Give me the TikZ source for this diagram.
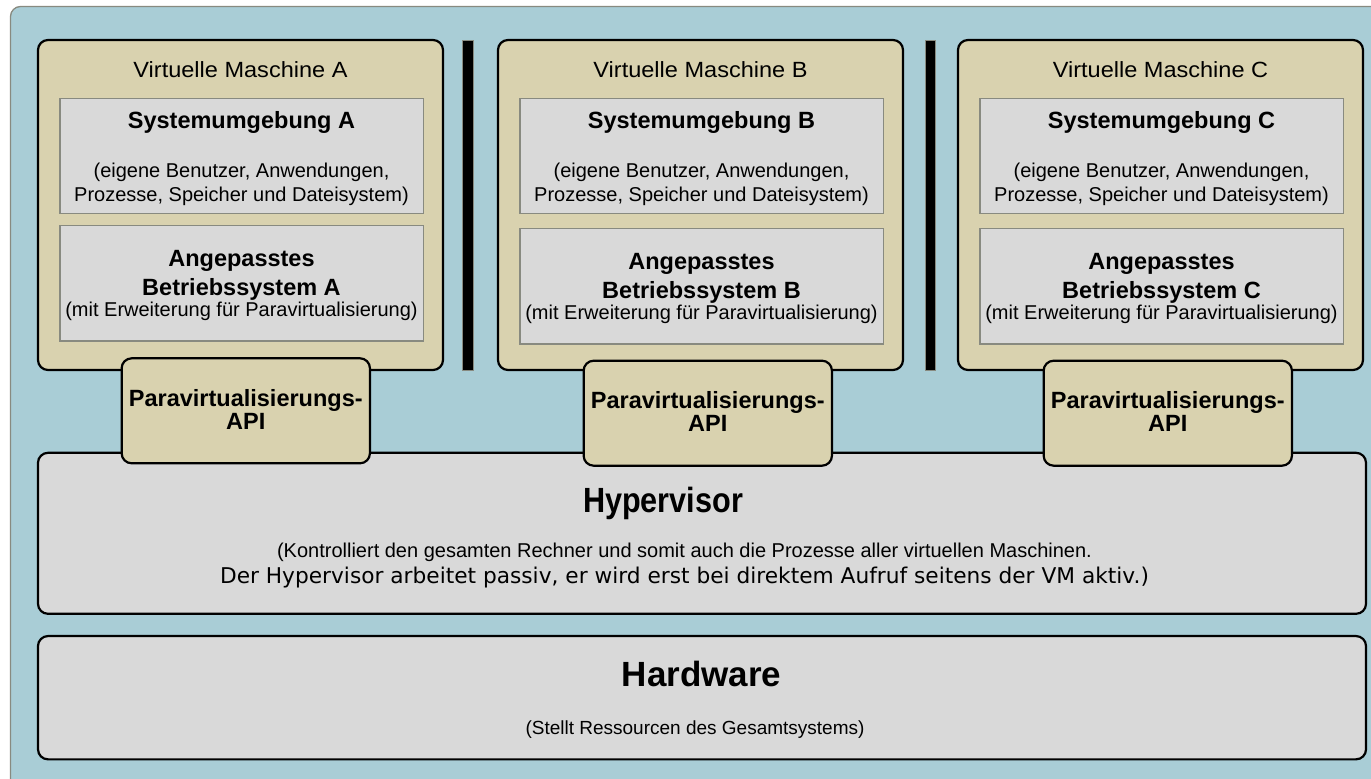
\documentclass[tikz,border=0pt]{standalone}
\usepackage{fontspec}
\setmainfont{Liberation Sans}
\newfontfamily\vmfont{Liberation Sans}[FakeStretch=1.07]
\newfontfamily\hvfont{Liberation Sans}[FakeStretch=0.875]
\newfontfamily\dvfont{DejaVu Sans}
\newcommand\pxsize[1]{\fontsize{#1}{#1}\selectfont}

\definecolor{canvasblue}{RGB}{169,205,214}
\definecolor{vmtan}{RGB}{217,210,175}
\definecolor{layergray}{RGB}{217,217,217}
\definecolor{softline}{RGB}{136,138,128}

\begin{document}
\begin{tikzpicture}[x=1pt,y=-1pt,
  box/.style={draw=black, line width=2.2pt, rounded corners=10pt, inner sep=0pt},
  vmbox/.style={box, fill=vmtan},
  apibox/.style={box, fill=vmtan},
  layerbox/.style={box, fill=layergray},
  innerbox/.style={draw=softline, line width=1.3pt, fill=layergray, inner sep=0pt},
  divider/.style={draw=softline, line width=0.8pt, fill=black, inner sep=0pt},
  label/.style={anchor=base, inner sep=0pt},
  vmtitle/.style={label, font=\vmfont\pxsize{22}},
  head/.style={label, font=\bfseries\pxsize{23.5}},
  body/.style={label, font=\pxsize{20}},
  big/.style={label, font=\bfseries\pxsize{35}}]

\useasboundingbox (0,0) rectangle (1371,779);
\clip (0,0) rectangle (1371,779);

% canvas
\draw[draw=softline, line width=1.3pt, fill=canvasblue, rounded corners=10pt]
  (10.5,6.5) rectangle (1400,810);

% virtual machines with their inner layers
\foreach \L/\dx/\dy in {A/0/0, B/460/3, C/920/3} {
  \node[vmbox, minimum width=405, minimum height=330] (vm\L) at ({240.5+\dx},205) {};
  \node[vmtitle] (vmt\L) at ({240.5+\dx},77) {Virtuelle Maschine \L};
  \node[innerbox, minimum width=363.3, minimum height=115] (env\L) at ({241.6+\dx},155.8) {};
  \node[head] (envh\L) at ({241.5+\dx},128.3) {Systemumgebung \L};
  \node[body] (enva\L) at ({241.5+\dx},177) {(eigene Benutzer, Anwendungen,};
  \node[body] (envb\L) at ({241.5+\dx},201) {Prozesse, Speicher und Dateisystem)};
  \node[innerbox, minimum width=363.3, minimum height=115.7] (os\L) at ({241.6+\dx},{283+\dy}) {};
  \node[head] (osa\L) at ({241.5+\dx},{266+\dy}) {Angepasstes};
  \node[head] (osb\L) at ({241.5+\dx},{295+\dy}) {Betriebssystem \L};
  \node[body] (osc\L) at ({241.5+\dx},{316+\dy}) {(mit Erweiterung für Paravirtualisierung)};
}

% separators between the machines
\node[divider, minimum width=10.5, minimum height=330] (sepAB) at (468,205) {};
\node[divider, minimum width=10.5, minimum height=330] (sepBC) at (930.5,205) {};

% hypervisor
\node[layerbox, minimum width=1328, minimum height=161] (hv) at (702,533.3) {};
\node[big, font=\hvfont\bfseries\pxsize{35}] (hvt) at (663,512.5) {Hypervisor};
\node[body] (hva) at (684.5,557) {(Kontrolliert den gesamten Rechner und somit auch die Prozesse aller virtuellen Maschinen.};
\node[label, font=\dvfont\pxsize{21.7}] (hvb) at (684.5,583) {Der Hypervisor arbeitet passiv, er wird erst bei direktem Aufruf seitens der VM aktiv.)};

% hardware
\node[layerbox, minimum width=1328, minimum height=123.3] (hw) at (702,697.7) {};
\node[big] (hwt) at (701.7,686.7) {Hardware};
\node[body, font=\pxsize{19}] (hwa) at (695,734) {(Stellt Ressourcen des Gesamtsystems)};

% paravirtualisation interfaces, drawn over the machine and hypervisor edges
\foreach \L/\ax/\ay in {A/0/0, B/462/2.4, C/922/2.4} {
  \node[apibox, minimum width=248.3, minimum height=105] (api\L) at ({245.8+\ax},{410.8+\ay}) {};
  \node[head] (apia\L) at ({245.8+\ax},{406+\ay}) {Paravirtualisierungs-};
  \node[head] (apib\L) at ({245.8+\ax},{429+\ay}) {API};
}
\end{tikzpicture}
\end{document}
